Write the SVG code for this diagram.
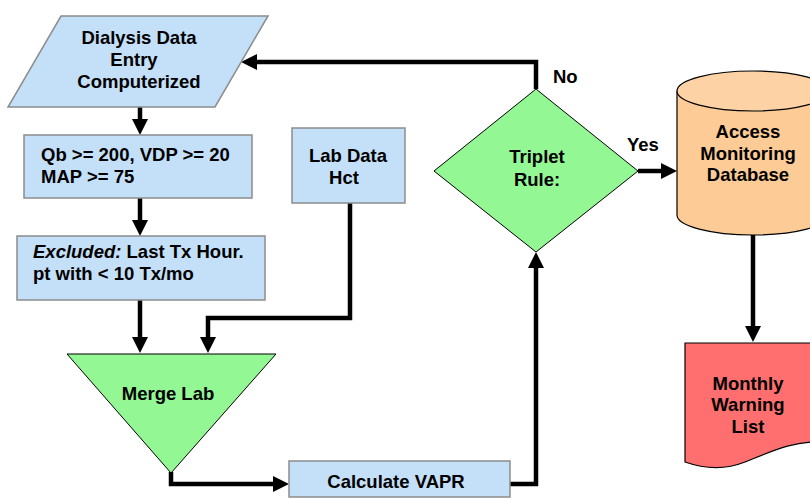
<svg xmlns="http://www.w3.org/2000/svg" width="810" height="498" viewBox="0 0 810 498">
<style>
text{font-family:"Liberation Sans",Arial,sans-serif;font-size:18.5px;font-weight:bold;fill:#000}
.c{text-anchor:middle}
.blue{fill:#c4dff8;stroke:#8c8c8c;stroke-width:1.5}
.green{fill:#93f793;stroke:#000;stroke-width:1}
.conn{fill:none;stroke:#000;stroke-width:4.5;stroke-linejoin:miter}
</style>
<defs>
<marker id="ah" markerUnits="userSpaceOnUse" markerWidth="16" markerHeight="16" refX="4" refY="8" orient="auto">
<path d="M0,0 L16,8 L0,16 Z" fill="#000"/>
</marker>
</defs>
<rect width="810" height="498" fill="#fff"/>
<g id="connectors">
<path class="conn" d="M536,89 V62 H253" marker-end="url(#ah)"/>
<path class="conn" d="M140,107 V123" marker-end="url(#ah)"/>
<path class="conn" d="M140,198 V224" marker-end="url(#ah)"/>
<path class="conn" d="M140,300 V341" marker-end="url(#ah)"/>
<path class="conn" d="M350,203 V318 H208 V341" marker-end="url(#ah)"/>
<path class="conn" d="M171,472 V484 H277" marker-end="url(#ah)"/>
<path class="conn" d="M510,484 H536 V264" marker-end="url(#ah)"/>
<path class="conn" d="M638,171 H665" marker-end="url(#ah)"/>
<path class="conn" d="M753,235 V330" marker-end="url(#ah)"/>
</g>
<g id="dialysis">
<polygon class="blue" points="61,16 268,16 215,107 8,107"/>
<text class="c" x="139" y="44">Dialysis Data</text>
<text class="c" x="134" y="66">Entry</text>
<text class="c" x="139" y="88">Computerized</text>
</g>
<g id="qb">
<rect class="blue" x="24" y="135" width="228" height="63"/>
<text x="41" y="161">Qb &gt;= 200, VDP &gt;= 20</text>
<text x="41" y="183">MAP &gt;= 75</text>
</g>
<g id="excluded">
<rect class="blue" x="17" y="236" width="248" height="64"/>
<text x="33" y="258"><tspan font-style="italic">Excluded:</tspan> Last Tx Hour.</text>
<text x="33" y="280">pt with &lt; 10 Tx/mo</text>
</g>
<g id="labdata">
<rect class="blue" x="292" y="128" width="113" height="75"/>
<text class="c" x="348" y="162">Lab Data</text>
<text class="c" x="344" y="184">Hct</text>
</g>
<g id="merge">
<polygon class="green" points="67,354 276,354 171,473"/>
<text class="c" x="168" y="400">Merge Lab</text>
</g>
<g id="vapr">
<rect class="blue" x="289" y="461" width="221" height="36"/>
<text class="c" x="396" y="488">Calculate VAPR</text>
</g>
<g id="triplet">
<polygon class="green" points="536,89 638,171 536,252 434,171"/>
<text class="c" x="537" y="163">Triplet</text>
<text class="c" x="537" y="186">Rule:</text>
<text x="553" y="83">No</text>
<text x="627" y="151">Yes</text>
</g>
<g id="database">
<path d="M677,91 V215 A76,20 0 0 0 829,215 V91" fill="#fdcb95" stroke="#000" stroke-width="1.2"/>
<ellipse cx="753" cy="91" rx="76" ry="20" fill="#fdd3a6" stroke="#000" stroke-width="1.2"/>
<text class="c" x="748" y="138">Access</text>
<text class="c" x="748" y="160">Monitoring</text>
<text class="c" x="748" y="181">Database</text>
</g>
<g id="warning">
<path d="M685,343 H823 V442 C795,440 770,452 745,462 C725,470 705,469 685,462 Z" fill="#ff6f6f" stroke="#000" stroke-width="1.2"/>
<text class="c" x="748" y="390">Monthly</text>
<text class="c" x="748" y="411">Warning</text>
<text class="c" x="748" y="433">List</text>
</g>
</svg>
